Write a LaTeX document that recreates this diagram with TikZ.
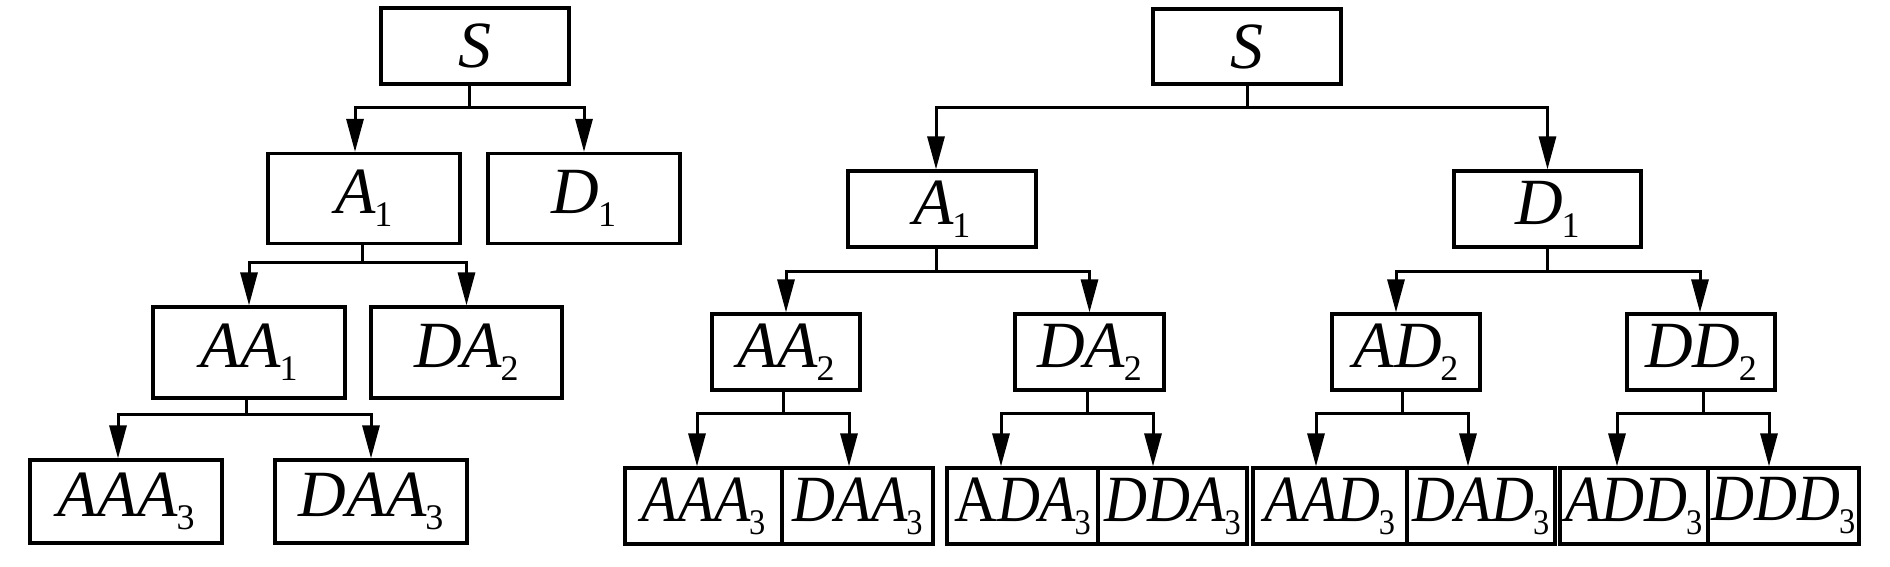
\documentclass[tikz,border=0pt]{standalone}
\usepackage{fontspec}
\setmainfont{Liberation Serif}
\newfontfamily\narrowfont{Liberation Serif}[FakeStretch=0.9]
\usetikzlibrary{arrows.meta}
\newcommand{\sbs}[1]{\kern-1.5pt\raisebox{-13pt}{\fontsize{36}{36}\selectfont\upshape #1}}
\newcommand{\itl}[2]{{\itshape #1}\sbs{#2}}
\begin{document}
\begin{tikzpicture}[x=1pt,y=-1pt,
  box/.style={draw, line width=3.2pt, inner sep=0pt, font=\fontsize{66}{80}\selectfont},
  tight/.style={box, font=\narrowfont\fontsize{66}{80}\selectfont},
  conn/.style={line width=3pt, line join=miter},
  arr/.style={line width=3pt, line join=miter, -{Triangle[length=33pt,width=17pt]}}]
\useasboundingbox (0,0) rectangle (1890,567);

% ---------- left tree ----------
\node[box, minimum width=188pt, minimum height=76pt] (LS) at (475,46) {{\itshape S}};
\node[box, minimum width=192pt, minimum height=90pt] (LA1) at (364,198.5) {\itl{A}{1}};
\node[box, minimum width=192pt, minimum height=90pt] (LD1) at (584,198.5) {\itl{D}{1}};
\node[box, minimum width=192pt, minimum height=91pt] (LAA1) at (249,352.5) {\itl{AA}{1}};
\node[box, minimum width=191pt, minimum height=91pt] (LDA2) at (466.5,352.5) {\itl{DA}{2}};
\node[box, minimum width=192pt, minimum height=83pt] (LAAA3) at (126,501.5) {\itl{AAA}{3}};
\node[box, minimum width=192pt, minimum height=83pt] (LDAA3) at (371,501.5) {\itl{DAA}{3}};

\coordinate (LSj) at (469,108);
\draw[conn] (LS.south -| LSj) -- (LSj);
\draw[arr] (LSj) -| ([xshift=-9pt]LA1.north);
\draw[arr] (LSj) -| (LD1.north);

\coordinate (LA1j) at (362,262);
\draw[conn] (LA1.south -| LA1j) -- (LA1j);
\draw[arr] (LA1j) -| (LAA1.north);
\draw[arr] (LA1j) -| (LDA2.north);

\coordinate (LAA1j) at (246,414);
\draw[conn] (LAA1.south -| LAA1j) -- (LAA1j);
\draw[arr] (LAA1j) -| ([xshift=-8pt]LAAA3.north);
\draw[arr] (LAA1j) -| (LDAA3.north);

% ---------- right tree ----------
\node[box, minimum width=188pt, minimum height=75pt] (RS) at (1247,46.5) {{\itshape S}};
\node[box, minimum width=188pt, minimum height=76pt] (RA1) at (942,209) {\itl{A}{1}};
\node[box, minimum width=187pt, minimum height=76pt] (RD1) at (1547.5,209) {\itl{D}{1}};

\node[box, minimum width=148pt, minimum height=76pt] (RAA2) at (786,352) {\itl{AA}{2}};
\node[box, minimum width=149pt, minimum height=76pt] (RDA2) at (1089.5,352) {\itl{DA}{2}};
\node[box, minimum width=148pt, minimum height=76pt] (RAD2) at (1406,352) {\itl{AD}{2}};
\node[box, minimum width=148pt, minimum height=76pt] (RDD2) at (1701,352) {\itl{DD}{2}};

\node[tight, minimum width=157pt, minimum height=76pt] (RAAA3) at (703.5,506) {\itl{AAA}{3}};
\node[tight, minimum width=151pt, minimum height=76pt] (RDAA3) at (857.5,506) {\itl{DAA}{3}};
\node[tight, minimum width=151pt, minimum height=76pt] (RADA3) at (1022.5,506) {\upshape A\itl{DA}{3}};
\node[tight, minimum width=149pt, minimum height=76pt] (RDDA3) at (1172.5,506) {\itl{DDA}{3}};
\node[tight, minimum width=154pt, minimum height=76pt] (RAAD3) at (1330,506) {\itl{AAD}{3}};
\node[tight, minimum width=148pt, minimum height=76pt] (RDAD3) at (1481,506) {\itl{DAD}{3}};
\node[tight, minimum width=148pt, minimum height=76pt] (RADD3) at (1634,506) {\itl{ADD}{3}};
\node[tight, minimum width=151pt, minimum height=76pt] (RDDD3) at (1783.5,506) {\itl{DDD}{3}};

\coordinate (RSj) at (1247,108);
\draw[conn] (RS.south -| RSj) -- (RSj);
\draw[arr] (RSj) -| ([xshift=-6pt]RA1.north);
\draw[arr] (RSj) -| (RD1.north);

\coordinate (RA1j) at (936,271);
\draw[conn] (RA1.south -| RA1j) -- (RA1j);
\draw[arr] (RA1j) -| (RAA2.north);
\draw[arr] (RA1j) -| (RDA2.north);

\coordinate (RD1j) at (1547,271);
\draw[conn] (RD1.south -| RD1j) -- (RD1j);
\draw[arr] (RD1j) -| ([xshift=-10pt]RAD2.north);
\draw[arr] (RD1j) -| ([xshift=-1pt]RDD2.north);

\coordinate (RAA2j) at (783,413);
\draw[conn] (RAA2.south -| RAA2j) -- (RAA2j);
\draw[arr] (RAA2j) -| ([xshift=-6.5pt]RAAA3.north);
\draw[arr] (RAA2j) -| ([xshift=-8.5pt]RDAA3.north);

\coordinate (RDA2j) at (1087,413);
\draw[conn] (RDA2.south -| RDA2j) -- (RDA2j);
\draw[arr] (RDA2j) -| ([xshift=-21.5pt]RADA3.north);
\draw[arr] (RDA2j) -| ([xshift=-19.5pt]RDDA3.north);

\coordinate (RAD2j) at (1402,413);
\draw[conn] (RAD2.south -| RAD2j) -- (RAD2j);
\draw[arr] (RAD2j) -| ([xshift=-14pt]RAAD3.north);
\draw[arr] (RAD2j) -| ([xshift=-13pt]RDAD3.north);

\coordinate (RDD2j) at (1703,413);
\draw[conn] (RDD2.south -| RDD2j) -- (RDD2j);
\draw[arr] (RDD2j) -| ([xshift=-17pt]RADD3.north);
\draw[arr] (RDD2j) -| ([xshift=-14.5pt]RDDD3.north);
\end{tikzpicture}
\end{document}
